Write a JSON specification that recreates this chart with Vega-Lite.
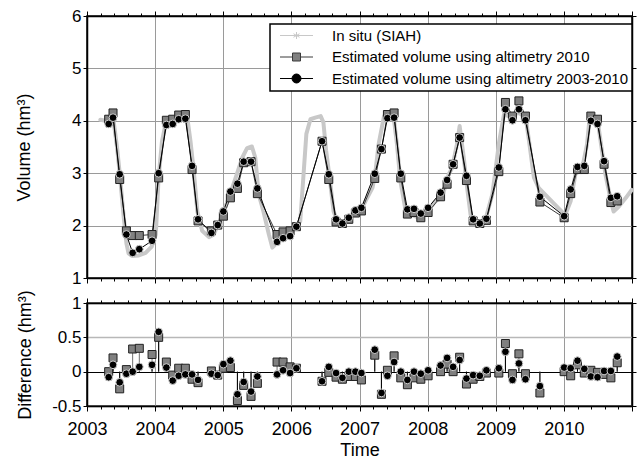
{
  "$schema": "https://vega.github.io/schema/vega-lite/v6.json",
  "padding": {"left": 14, "top": 6, "right": 3, "bottom": 2},
  "spacing": 1,
  "datasets": {
    "insitu": [
      {"t": 2003.196, "v": 4.02}, {"t": 2003.27, "v": 4.0}, {"t": 2003.38, "v": 4.1}, {"t": 2003.44, "v": 3.5},
      {"t": 2003.48, "v": 3.0}, {"t": 2003.54, "v": 2.15}, {"t": 2003.58, "v": 1.65}, {"t": 2003.61, "v": 1.47},
      {"t": 2003.66, "v": 1.42}, {"t": 2003.76, "v": 1.43}, {"t": 2003.86, "v": 1.48}, {"t": 2003.95, "v": 1.6},
      {"t": 2004.01, "v": 1.83}, {"t": 2004.05, "v": 2.9}, {"t": 2004.1, "v": 3.6}, {"t": 2004.15, "v": 3.92},
      {"t": 2004.25, "v": 4.03}, {"t": 2004.35, "v": 4.1}, {"t": 2004.47, "v": 4.08}, {"t": 2004.52, "v": 3.6},
      {"t": 2004.57, "v": 3.0}, {"t": 2004.62, "v": 2.27}, {"t": 2004.69, "v": 1.9}, {"t": 2004.79, "v": 1.78},
      {"t": 2004.86, "v": 1.83}, {"t": 2004.93, "v": 2.03}, {"t": 2005.03, "v": 2.35}, {"t": 2005.1, "v": 2.6},
      {"t": 2005.2, "v": 2.98}, {"t": 2005.28, "v": 3.3}, {"t": 2005.35, "v": 3.48}, {"t": 2005.42, "v": 3.51},
      {"t": 2005.47, "v": 3.3}, {"t": 2005.52, "v": 2.6}, {"t": 2005.59, "v": 2.27}, {"t": 2005.67, "v": 1.83},
      {"t": 2005.72, "v": 1.58}, {"t": 2005.79, "v": 1.67}, {"t": 2005.86, "v": 1.76}, {"t": 2005.96, "v": 1.9},
      {"t": 2006.06, "v": 1.96}, {"t": 2006.13, "v": 2.08}, {"t": 2006.18, "v": 3.0}, {"t": 2006.22, "v": 3.75},
      {"t": 2006.28, "v": 4.03}, {"t": 2006.35, "v": 4.06}, {"t": 2006.43, "v": 4.09}, {"t": 2006.47, "v": 3.97},
      {"t": 2006.51, "v": 3.43}, {"t": 2006.56, "v": 2.93}, {"t": 2006.62, "v": 2.27}, {"t": 2006.7, "v": 2.0},
      {"t": 2006.77, "v": 2.03}, {"t": 2006.84, "v": 2.15}, {"t": 2006.94, "v": 2.25}, {"t": 2007.04, "v": 2.34},
      {"t": 2007.09, "v": 2.47}, {"t": 2007.19, "v": 2.72}, {"t": 2007.23, "v": 2.98}, {"t": 2007.28, "v": 3.55},
      {"t": 2007.36, "v": 4.09}, {"t": 2007.43, "v": 4.12}, {"t": 2007.5, "v": 4.09}, {"t": 2007.55, "v": 3.55},
      {"t": 2007.6, "v": 2.85}, {"t": 2007.67, "v": 2.34}, {"t": 2007.75, "v": 2.21}, {"t": 2007.87, "v": 2.15},
      {"t": 2007.97, "v": 2.25}, {"t": 2008.12, "v": 2.47}, {"t": 2008.21, "v": 2.53}, {"t": 2008.31, "v": 2.98},
      {"t": 2008.36, "v": 3.1}, {"t": 2008.43, "v": 3.55}, {"t": 2008.47, "v": 3.9}, {"t": 2008.53, "v": 3.3},
      {"t": 2008.58, "v": 2.72}, {"t": 2008.63, "v": 2.21}, {"t": 2008.68, "v": 2.05}, {"t": 2008.78, "v": 2.02},
      {"t": 2008.85, "v": 2.12}, {"t": 2008.95, "v": 2.6}, {"t": 2009.05, "v": 3.6}, {"t": 2009.12, "v": 4.12},
      {"t": 2009.19, "v": 4.09}, {"t": 2009.34, "v": 4.15}, {"t": 2009.44, "v": 4.06}, {"t": 2009.49, "v": 3.6},
      {"t": 2009.56, "v": 2.92}, {"t": 2009.63, "v": 2.72}, {"t": 2010.02, "v": 2.2}, {"t": 2010.1, "v": 2.47},
      {"t": 2010.17, "v": 2.98}, {"t": 2010.27, "v": 3.1}, {"t": 2010.34, "v": 3.55}, {"t": 2010.38, "v": 4.09},
      {"t": 2010.49, "v": 4.06}, {"t": 2010.54, "v": 3.6}, {"t": 2010.61, "v": 2.98}, {"t": 2010.69, "v": 2.47},
      {"t": 2010.73, "v": 2.27}, {"t": 2010.81, "v": 2.37}, {"t": 2010.91, "v": 2.53}, {"t": 2010.995, "v": 2.68}
    ],
    "est": [
      {"t": 2003.318, "a": 4.03, "b": 3.94}, {"t": 2003.382, "a": 4.15, "b": 4.06}, {"t": 2003.48, "a": 2.88, "b": 2.98},
      {"t": 2003.578, "a": 1.9, "b": 1.83}, {"t": 2003.67, "a": 1.81, "b": 1.48}, {"t": 2003.768, "a": 1.81, "b": 1.55},
      {"t": 2003.955, "a": 1.83, "b": 1.71}, {"t": 2004.052, "a": 2.91, "b": 3.0}, {"t": 2004.165, "a": 4.01, "b": 3.92},
      {"t": 2004.258, "a": 4.03, "b": 3.94}, {"t": 2004.346, "a": 4.11, "b": 4.03}, {"t": 2004.444, "a": 4.12, "b": 4.04},
      {"t": 2004.542, "a": 3.07, "b": 3.14}, {"t": 2004.63, "a": 2.09, "b": 2.12}, {"t": 2004.826, "a": 1.9, "b": 1.86},
      {"t": 2004.919, "a": 2.01, "b": 2.01}, {"t": 2005.002, "a": 2.18, "b": 2.27}, {"t": 2005.105, "a": 2.53, "b": 2.65},
      {"t": 2005.208, "a": 2.71, "b": 2.8}, {"t": 2005.3, "a": 3.2, "b": 3.22}, {"t": 2005.408, "a": 3.22, "b": 3.22},
      {"t": 2005.501, "a": 2.61, "b": 2.71}, {"t": 2005.79, "a": 1.83, "b": 1.69}, {"t": 2005.878, "a": 1.88, "b": 1.76},
      {"t": 2005.981, "a": 1.9, "b": 1.8}, {"t": 2006.074, "a": 1.98, "b": 1.98}, {"t": 2006.45, "a": 3.61, "b": 3.61},
      {"t": 2006.549, "a": 2.88, "b": 2.98}, {"t": 2006.656, "a": 2.07, "b": 2.12}, {"t": 2006.749, "a": 2.04, "b": 2.04},
      {"t": 2006.843, "a": 2.12, "b": 2.15}, {"t": 2006.94, "a": 2.24, "b": 2.29}, {"t": 2007.028, "a": 2.28, "b": 2.34},
      {"t": 2007.224, "a": 2.9, "b": 2.99}, {"t": 2007.322, "a": 3.46, "b": 3.46}, {"t": 2007.41, "a": 4.12, "b": 4.05},
      {"t": 2007.508, "a": 4.15, "b": 4.06}, {"t": 2007.606, "a": 2.91, "b": 2.99}, {"t": 2007.703, "a": 2.22, "b": 2.31},
      {"t": 2007.8, "a": 2.25, "b": 2.32}, {"t": 2007.9, "a": 2.15, "b": 2.23}, {"t": 2008.007, "a": 2.25, "b": 2.34},
      {"t": 2008.19, "a": 2.55, "b": 2.63}, {"t": 2008.286, "a": 2.79, "b": 2.87}, {"t": 2008.374, "a": 3.17, "b": 3.17},
      {"t": 2008.47, "a": 3.68, "b": 3.68}, {"t": 2008.57, "a": 2.86, "b": 2.95}, {"t": 2008.668, "a": 2.09, "b": 2.12},
      {"t": 2008.766, "a": 2.04, "b": 2.04}, {"t": 2008.863, "a": 2.1, "b": 2.13}, {"t": 2009.045, "a": 3.03, "b": 3.11},
      {"t": 2009.142, "a": 4.35, "b": 4.22}, {"t": 2009.245, "a": 4.09, "b": 4.01}, {"t": 2009.34, "a": 4.38, "b": 4.22},
      {"t": 2009.436, "a": 4.09, "b": 4.01}, {"t": 2009.648, "a": 2.45, "b": 2.55}, {"t": 2010.004, "a": 2.15, "b": 2.18},
      {"t": 2010.1, "a": 2.61, "b": 2.69}, {"t": 2010.2, "a": 3.07, "b": 3.12}, {"t": 2010.3, "a": 3.07, "b": 3.14},
      {"t": 2010.396, "a": 4.09, "b": 4.0}, {"t": 2010.494, "a": 4.03, "b": 3.94}, {"t": 2010.59, "a": 3.17, "b": 3.23},
      {"t": 2010.69, "a": 2.44, "b": 2.53}, {"t": 2010.783, "a": 2.47, "b": 2.56}
    ],
    "diff": [
      {"t": 2003.318, "da": 0.0, "db": -0.08}, {"t": 2003.382, "da": 0.2, "db": 0.1}, {"t": 2003.48, "da": -0.25, "db": -0.155},
      {"t": 2003.578, "da": 0.03, "db": -0.03}, {"t": 2003.67, "da": 0.33, "db": 0.0}, {"t": 2003.768, "da": 0.34, "db": 0.07},
      {"t": 2003.955, "da": 0.25, "db": 0.1}, {"t": 2004.052, "da": 0.5, "db": 0.58}, {"t": 2004.165, "da": 0.14, "db": 0.06},
      {"t": 2004.258, "da": -0.05, "db": -0.13}, {"t": 2004.346, "da": 0.05, "db": -0.06}, {"t": 2004.444, "da": 0.05, "db": -0.04},
      {"t": 2004.542, "da": -0.11, "db": -0.04}, {"t": 2004.63, "da": -0.16, "db": -0.12}, {"t": 2004.826, "da": 0.01, "db": -0.03},
      {"t": 2004.919, "da": -0.05, "db": -0.05}, {"t": 2005.002, "da": 0.05, "db": 0.11}, {"t": 2005.105, "da": 0.06, "db": 0.16},
      {"t": 2005.208, "da": -0.42, "db": -0.33}, {"t": 2005.3, "da": -0.2, "db": -0.15}, {"t": 2005.408, "da": -0.36, "db": -0.29},
      {"t": 2005.501, "da": -0.17, "db": -0.07}, {"t": 2005.79, "da": 0.14, "db": -0.04}, {"t": 2005.878, "da": 0.14, "db": 0.02},
      {"t": 2005.981, "da": 0.07, "db": -0.02}, {"t": 2006.074, "da": 0.05, "db": 0.05}, {"t": 2006.45, "da": -0.14, "db": -0.14},
      {"t": 2006.549, "da": -0.01, "db": 0.07}, {"t": 2006.656, "da": -0.08, "db": -0.02}, {"t": 2006.749, "da": -0.11, "db": -0.09},
      {"t": 2006.843, "da": -0.07, "db": 0.0}, {"t": 2006.94, "da": -0.07, "db": 0.0}, {"t": 2007.028, "da": -0.12, "db": -0.02},
      {"t": 2007.224, "da": 0.24, "db": 0.32}, {"t": 2007.322, "da": -0.33, "db": -0.31}, {"t": 2007.41, "da": 0.02, "db": -0.06},
      {"t": 2007.508, "da": 0.23, "db": 0.14}, {"t": 2007.606, "da": -0.09, "db": 0.0}, {"t": 2007.703, "da": -0.19, "db": -0.12},
      {"t": 2007.8, "da": -0.09, "db": 0.0}, {"t": 2007.9, "da": -0.11, "db": -0.03}, {"t": 2008.007, "da": -0.06, "db": 0.02},
      {"t": 2008.19, "da": 0.0, "db": 0.09}, {"t": 2008.286, "da": 0.11, "db": 0.2}, {"t": 2008.374, "da": 0.0, "db": 0.07},
      {"t": 2008.47, "da": 0.21, "db": 0.17}, {"t": 2008.57, "da": -0.18, "db": -0.1}, {"t": 2008.668, "da": -0.11, "db": -0.05},
      {"t": 2008.766, "da": -0.07, "db": -0.06}, {"t": 2008.863, "da": -0.02, "db": 0.02}, {"t": 2009.045, "da": -0.02, "db": 0.05},
      {"t": 2009.142, "da": 0.41, "db": 0.29}, {"t": 2009.245, "da": -0.03, "db": -0.12}, {"t": 2009.34, "da": 0.26, "db": 0.12},
      {"t": 2009.436, "da": -0.03, "db": -0.11}, {"t": 2009.648, "da": -0.31, "db": -0.21}, {"t": 2010.004, "da": 0.0, "db": 0.06},
      {"t": 2010.1, "da": -0.06, "db": 0.05}, {"t": 2010.2, "da": 0.1, "db": 0.16}, {"t": 2010.3, "da": -0.02, "db": 0.04},
      {"t": 2010.396, "da": 0.02, "db": -0.07}, {"t": 2010.494, "da": -0.01, "db": -0.08}, {"t": 2010.59, "da": -0.04, "db": 0.01},
      {"t": 2010.69, "da": -0.09, "db": 0.01}, {"t": 2010.783, "da": 0.13, "db": 0.22}
    ]
  },
  "vconcat": [
    {
      "width": 545,
      "height": 262,
      "layer": [
        {
          "data": {"name": "insitu"},
          "mark": {"type": "line", "strokeWidth": 4, "strokeJoin": "round", "strokeCap": "round"},
          "encoding": {
            "x": {"field": "t", "type": "quantitative", "scale": {"domain": [2003, 2011], "nice": false, "zero": false},
              "axis": {"orient": "bottom", "title": null, "labels": false, "grid": true,
                "values": [2003,2003.2,2003.4,2003.6,2003.8,2004,2004.2,2004.4,2004.6,2004.8,2005,2005.2,2005.4,2005.6,2005.8,2006,2006.2,2006.4,2006.6,2006.8,2007,2007.2,2007.4,2007.6,2007.8,2008,2008.2,2008.4,2008.6,2008.8,2009,2009.2,2009.4,2009.6,2009.8,2010,2010.2,2010.4,2010.6,2010.8,2011],
                "gridOpacity": {"condition": {"test": "datum.value % 1 === 0", "value": 1}, "value": 0},
                "tickSize": {"condition": {"test": "datum.value % 1 === 0", "value": 5}, "value": 3}}},
            "y": {"field": "v", "type": "quantitative", "scale": {"domain": [1, 6], "nice": false, "zero": false},
              "axis": {"orient": "left", "title": "Volume (hm³)", "values": [1, 2, 3, 4, 5, 6], "grid": true, "tickSize": 4,
                "labelPadding": 2, "titleX": -63, "titleBaseline": "middle"}},
            "stroke": {"datum": "In situ (SIAH)", "type": "nominal",
              "scale": {"domain": ["In situ (SIAH)", "Estimated volume using altimetry 2010", "Estimated volume using altimetry 2003-2010"],
                "range": ["#c8c8c8", "#3a3a3a", "#000000"]},
              "legend": {"title": null, "orient": "none", "legendX": 183, "legendY": 8,
                "symbolSize": 100, "symbolStrokeWidth": 1, "symbolOffset": 15, "labelOffset": 28, "rowPadding": 5.5, "padding": 4,
                "labelFont": "Liberation Sans", "labelFontSize": 15, "labelColor": "#000", "labelLimit": 0,
                "fillColor": "#ffffff", "strokeColor": "#000000",
                "encode": {
                  "symbols": {"update": {
                    "shape": {"signal": "datum.value === 'In situ (SIAH)' ? 'M-3.3,0H3.3M0,-0.7V0.7M-0.6,-0.35L0.6,0.35M-0.6,0.35L0.6,-0.35' : datum.value === 'Estimated volume using altimetry 2010' ? 'M-3.3,0H-0.8M0.8,0H3.3M-0.8,-0.8H0.8V0.8H-0.8Z' : 'M-3.3,0H-0.9M0.9,0H3.3M-0.9,0A0.9,0.9,0,1,1,0.9,0A0.9,0.9,0,1,1,-0.9,0Z'"},
                    "fill": {"signal": "datum.value === 'In situ (SIAH)' ? 'transparent' : datum.value === 'Estimated volume using altimetry 2010' ? '#808080' : '#000000'"},
                    "stroke": {"signal": "datum.value === 'In situ (SIAH)' ? '#b0b0b0' : '#000000'"},
                    "opacity": {"value": 1}
                  }},
                  "legend": {"update": {"strokeWidth": {"value": 1.5}}}
                }}}
          }
        },
        {
          "data": {"name": "est"},
          "mark": {"type": "line", "strokeWidth": 1},
          "encoding": {
            "x": {"field": "t", "type": "quantitative",
              "axis": {"orient": "top", "title": null, "labels": false, "grid": false,
                "values": [2003,2003.2,2003.4,2003.6,2003.8,2004,2004.2,2004.4,2004.6,2004.8,2005,2005.2,2005.4,2005.6,2005.8,2006,2006.2,2006.4,2006.6,2006.8,2007,2007.2,2007.4,2007.6,2007.8,2008,2008.2,2008.4,2008.6,2008.8,2009,2009.2,2009.4,2009.6,2009.8,2010,2010.2,2010.4,2010.6,2010.8,2011],
                "tickSize": {"condition": {"test": "datum.value % 1 === 0", "value": 5}, "value": 3}}},
            "y": {"field": "a", "type": "quantitative",
              "axis": {"orient": "right", "title": null, "labels": false, "grid": false, "values": [1, 2, 3, 4, 5, 6], "tickSize": 4}},
            "stroke": {"datum": "Estimated volume using altimetry 2010", "type": "nominal"}
          }
        },
        {
          "data": {"name": "est"},
          "mark": {"type": "line", "strokeWidth": 1},
          "encoding": {
            "x": {"field": "t", "type": "quantitative", "axis": null},
            "y": {"field": "b", "type": "quantitative", "axis": null},
            "stroke": {"datum": "Estimated volume using altimetry 2003-2010", "type": "nominal"}
          }
        },
        {
          "data": {"name": "est"},
          "mark": {"type": "point", "shape": "square", "filled": true, "size": 64, "fill": "#808080", "stroke": "#222222", "strokeWidth": 1, "opacity": 1},
          "encoding": {
            "x": {"field": "t", "type": "quantitative", "axis": null},
            "y": {"field": "a", "type": "quantitative", "axis": null}
          }
        },
        {
          "data": {"name": "est"},
          "mark": {"type": "point", "shape": "circle", "filled": true, "size": 60, "fill": "#000000", "stroke": "#d0d0d0", "strokeWidth": 1, "opacity": 1},
          "encoding": {
            "x": {"field": "t", "type": "quantitative", "axis": null},
            "y": {"field": "b", "type": "quantitative", "axis": null}
          }
        }
      ],
      "resolve": {"axis": {"x": "independent", "y": "independent"}}
    },
    {
      "width": 545,
      "height": 103,
      "data": {"name": "diff"},
      "layer": [
        {
          "mark": {"type": "rule", "color": "#707070", "strokeWidth": 1},
          "encoding": {
            "x": {"field": "t", "type": "quantitative", "scale": {"domain": [2003, 2011], "nice": false, "zero": false},
              "axis": {"orient": "bottom", "title": "Time", "grid": true, "labelFontSize": 18, "labelPadding": 9, "titlePadding": 3,
                "format": "d", "labelFlush": false, "labelOverlap": false, "labelBound": false, "tickSize": 5,
                "labelExpr": "datum.value < 2011 ? datum.label : ''",
                "values": [2003, 2004, 2005, 2006, 2007, 2008, 2009, 2010, 2011]}},
            "y": {"field": "da", "type": "quantitative", "scale": {"domain": [-0.5, 1], "nice": false, "zero": false},
              "axis": {"orient": "left", "title": "Difference (hm³)", "values": [-0.5, 0, 0.5, 1], "grid": true, "tickSize": 4,
                "labelPadding": 2, "titleX": -62, "titleBaseline": "middle",
                "labelExpr": "datum.value === -0.5 ? '-0.5' : datum.value === 0 ? '0' : datum.value === 1 ? '1' : '0.5'",
                "gridColor": {"condition": {"test": "datum.value === 0", "value": "#000000"}, "value": "#b8b8b8"},
                "gridWidth": {"condition": {"test": "datum.value === 0", "value": 1.2}, "value": 1.5}}},
            "y2": {"datum": 0}
          }
        },
        {
          "mark": {"type": "rule", "color": "#000000", "strokeWidth": 1},
          "encoding": {
            "x": {"field": "t", "type": "quantitative",
              "axis": {"orient": "top", "title": null, "labels": false, "grid": false,
                "values": [2003,2003.2,2003.4,2003.6,2003.8,2004,2004.2,2004.4,2004.6,2004.8,2005,2005.2,2005.4,2005.6,2005.8,2006,2006.2,2006.4,2006.6,2006.8,2007,2007.2,2007.4,2007.6,2007.8,2008,2008.2,2008.4,2008.6,2008.8,2009,2009.2,2009.4,2009.6,2009.8,2010,2010.2,2010.4,2010.6,2010.8,2011],
                "tickSize": {"condition": {"test": "datum.value % 1 === 0", "value": 5}, "value": 3}}},
            "y": {"field": "db", "type": "quantitative",
              "axis": {"orient": "right", "title": null, "labels": false, "grid": false, "values": [-0.5, 0, 0.5, 1], "tickSize": 4}},
            "y2": {"datum": 0}
          }
        },
        {
          "mark": {"type": "point", "shape": "square", "filled": true, "size": 64, "fill": "#808080", "stroke": "#222222", "strokeWidth": 1, "opacity": 1},
          "encoding": {
            "x": {"field": "t", "type": "quantitative",
              "axis": {"orient": "bottom", "title": null, "labels": false, "grid": false, "domain": false, "tickSize": 3,
                "values": [2003.2,2003.4,2003.6,2003.8,2004.2,2004.4,2004.6,2004.8,2005.2,2005.4,2005.6,2005.8,2006.2,2006.4,2006.6,2006.8,2007.2,2007.4,2007.6,2007.8,2008.2,2008.4,2008.6,2008.8,2009.2,2009.4,2009.6,2009.8,2010.2,2010.4,2010.6,2010.8]}},
            "y": {"field": "da", "type": "quantitative", "axis": null}
          }
        },
        {
          "mark": {"type": "point", "shape": "circle", "filled": true, "size": 60, "fill": "#000000", "stroke": "#d0d0d0", "strokeWidth": 1, "opacity": 1},
          "encoding": {
            "x": {"field": "t", "type": "quantitative", "axis": null},
            "y": {"field": "db", "type": "quantitative", "axis": null}
          }
        }
      ],
      "resolve": {"axis": {"x": "independent", "y": "independent"}}
    }
  ],
  "config": {
    "font": "Liberation Sans",
    "view": {"stroke": "#000000", "strokeWidth": 1.5},
    "axis": {
      "labelFont": "Liberation Sans", "titleFont": "Liberation Sans",
      "labelFontSize": 17, "titleFontSize": 18, "titleFontWeight": "normal",
      "labelColor": "#000000", "titleColor": "#000000",
      "domainColor": "#000000", "domainWidth": 1.5,
      "tickColor": "#000000", "tickWidth": 1,
      "gridColor": "#9a9a9a", "gridWidth": 1
    }
  }
}
